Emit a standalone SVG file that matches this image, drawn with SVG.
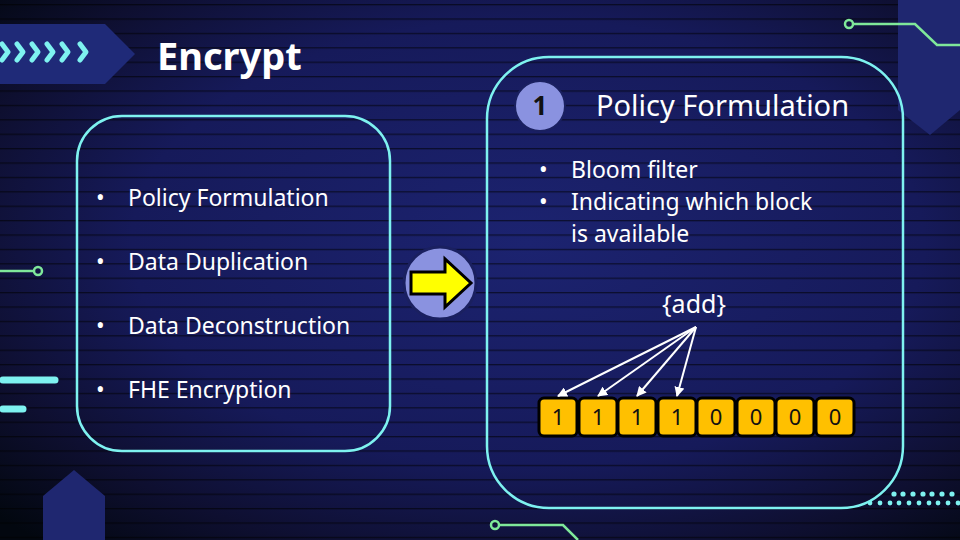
<svg xmlns="http://www.w3.org/2000/svg" width="960" height="540" viewBox="0 0 960 540">
<defs>
<radialGradient id="bg" cx="0.55" cy="0.45" r="0.75">
<stop offset="0" stop-color="#1c2370"/>
<stop offset="0.55" stop-color="#161a5a"/>
<stop offset="0.8" stop-color="#0e0f30"/>
<stop offset="1" stop-color="#02070f"/>
</radialGradient>
<pattern id="stripes" width="960" height="14.4" patternUnits="userSpaceOnUse" y="4">
<rect x="0" y="0" width="960" height="1.3" fill="#000" opacity="0.55"/>
</pattern>
<marker id="ah" viewBox="0 0 10 10" refX="9" refY="5" markerWidth="5" markerHeight="5" orient="auto"><path d="M0,0 L10,5 L0,10 z" fill="#fff"/></marker>
</defs>
<style>
.box{fill:none;stroke:#7ef2f0;stroke-width:2.5}
.t{font-family:"Noto Sans","Open Sans",sans-serif;fill:#fff}
.bit{fill:#ffc000;stroke:#000;stroke-width:3}
.bt{font-family:"Noto Sans",sans-serif;font-size:22px;fill:#111;text-anchor:middle}
.g{fill:none;stroke:#7fe89a;stroke-width:2.5}
.c{fill:#7ef2f0}
</style>
<rect width="960" height="540" fill="url(#bg)"/>
<rect width="960" height="540" fill="url(#stripes)"/>
<g id="deco">
<polygon points="0,24 105,24 135,54 105,84 0,84" fill="#1f2a78"/>
<g fill="none" stroke="#7ef2f0" stroke-width="5" stroke-linecap="round" stroke-linejoin="round">
<path d="M2,44 L8,52 L2,60"/><path d="M17,44 L23,52 L17,60"/><path d="M32,44 L38,52 L32,60"/><path d="M47,44 L53,52 L47,60"/><path d="M62,44 L68,52 L62,60"/><path d="M80,44 L86,52 L80,60"/>
</g>
<polygon points="898,0 960,0 960,110 930,135 898,110" fill="#1f2770"/>
<polygon points="43,496 74,470 105,496 105,540 43,540" fill="#1f2770"/>
<circle cx="849" cy="24" r="4" class="g"/><path class="g" d="M853,24 L915,24 L937,45 L960,45"/>
<circle cx="38" cy="271" r="4" class="g"/><path class="g" d="M0,271 L34,271"/>
<circle cx="495" cy="525" r="4" class="g"/><path class="g" d="M499,525 L563,525 L578,540"/>
<line x1="3" y1="380" x2="55" y2="380" stroke="#7ef2f0" stroke-width="7" stroke-linecap="round"/>
<line x1="3" y1="409" x2="23" y2="409" stroke="#7ef2f0" stroke-width="7" stroke-linecap="round"/>
<g class="c">
<circle cx="894" cy="494" r="2.6"/><circle cx="903" cy="494" r="2.6"/><circle cx="913" cy="494" r="2.6"/><circle cx="923" cy="494" r="2.6"/><circle cx="932" cy="494" r="2.6"/><circle cx="942" cy="494" r="2.6"/><circle cx="952" cy="494" r="2.6"/>
<circle cx="870" cy="503" r="2.4"/><circle cx="880" cy="503" r="2.4"/><circle cx="890" cy="503" r="2.4"/><circle cx="899" cy="503" r="2.4"/><circle cx="909" cy="503" r="2.4"/><circle cx="919" cy="503" r="2.4"/><circle cx="929" cy="503" r="2.4"/><circle cx="938" cy="503" r="2.4"/><circle cx="948" cy="503" r="2.4"/><circle cx="958" cy="503" r="2.4"/>
</g>
</g>
<text class="t" x="157" y="70" font-size="38" font-weight="bold">Encrypt</text>
<g id="leftbox">
<rect class="box" x="77" y="116" width="313" height="335" rx="45"/>
<g class="t" font-size="23">
<text x="96" y="206">•</text><text x="128" y="206">Policy Formulation</text>
<text x="96" y="270">•</text><text x="128" y="270">Data Duplication</text>
<text x="96" y="334">•</text><text x="128" y="334">Data Deconstruction</text>
<text x="96" y="398">•</text><text x="128" y="398">FHE Encryption</text>
</g>
</g>
<g id="arrow">
<circle cx="440" cy="283" r="36" fill="#8a92e0" stroke="#1a2060" stroke-width="3"/>
<polygon points="411,272 445,272 445,259 471,283 445,307 445,294 411,294" fill="#ffff00" stroke="#000" stroke-width="3"/>
</g>
<g id="rightbox">
<rect class="box" x="487" y="57" width="416" height="451" rx="62"/>
<circle cx="540" cy="106" r="25" fill="#8a92e0" stroke="#1a2060" stroke-width="2"/>
<text x="540" y="115" font-family="Noto Sans,sans-serif" font-size="26" font-weight="bold" fill="#111" text-anchor="middle">1</text>
<text class="t" x="596" y="116" font-size="29">Policy Formulation</text>
<g class="t" font-size="23">
<text x="539" y="178">•</text><text x="571" y="178">Bloom filter</text>
<text x="539" y="210">•</text><text x="571" y="210">Indicating which block</text>
<text x="571" y="242">is available</text>
</g>
<text class="t" x="694" y="313" font-size="25" text-anchor="middle">{add}</text>
</g>
<g id="bits">
<rect class="bit" x="539" y="398" width="38" height="38" rx="5"/><text class="bt" x="558" y="425">1</text>
<rect class="bit" x="579" y="398" width="38" height="38" rx="5"/><text class="bt" x="598" y="425">1</text>
<rect class="bit" x="618" y="398" width="38" height="38" rx="5"/><text class="bt" x="637" y="425">1</text>
<rect class="bit" x="658" y="398" width="38" height="38" rx="5"/><text class="bt" x="677" y="425">1</text>
<rect class="bit" x="697" y="398" width="38" height="38" rx="5"/><text class="bt" x="716" y="425">0</text>
<rect class="bit" x="737" y="398" width="38" height="38" rx="5"/><text class="bt" x="756" y="425">0</text>
<rect class="bit" x="776" y="398" width="38" height="38" rx="5"/><text class="bt" x="795" y="425">0</text>
<rect class="bit" x="816" y="398" width="38" height="38" rx="5"/><text class="bt" x="835" y="425">0</text>
</g>
<g id="connectors" stroke="#fff" stroke-width="2" marker-end="url(#ah)">
<line x1="696" y1="327" x2="558" y2="396"/>
<line x1="696" y1="327" x2="598" y2="396"/>
<line x1="696" y1="327" x2="637" y2="396"/>
<line x1="696" y1="327" x2="677" y2="396"/>
</g>
</svg>
